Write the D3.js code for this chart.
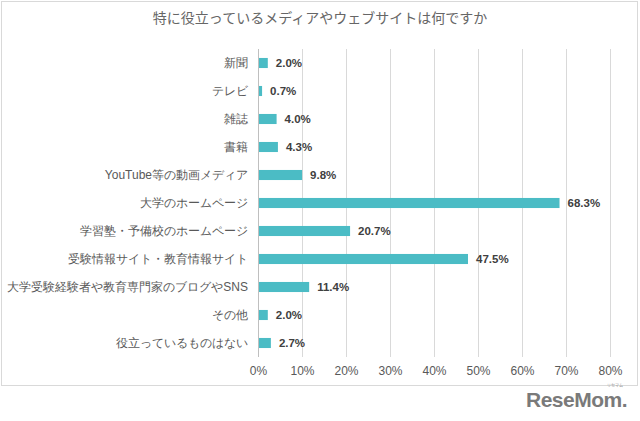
<!DOCTYPE html>
<html>
<head>
<meta charset="utf-8">
<script src="https://cdn.jsdelivr.net/npm/d3@7"></script>
<style>
body { margin: 0; background: #fff; }
svg { font-family: "Noto Sans CJK JP", "Liberation Sans", Arial, sans-serif; }
</style>
</head>
<body>
<div id="chart"></div>
<script>
// data
const categories = [
	'新聞',
	'テレビ',
	'雑誌',
	'書籍',
	'YouTube等の動画メディア',
	'大学のホームページ',
	'学習塾・予備校のホームページ',
	'受験情報サイト・教育情報サイト',
	'大学受験経験者や教育専門家のブログやSNS',
	'その他',
	'役立っているものはない',
]
const values = [2.0, 0.7, 4.0, 4.3, 9.8, 68.3, 20.7, 47.5, 11.4, 2.0, 2.7]
const ticks = [0, 10, 20, 30, 40, 50, 60, 70, 80]

const svgWidth = 640
const svgHeight = 421
const margin = { top: 49, left: 258, right: 30, bottom: 64 }

const svg = d3
	.select('#chart')
	.append('svg')
	.attr('width', svgWidth)
	.attr('height', svgHeight)

// frame
svg
	.append('rect')
	.attr('x', 1.5)
	.attr('y', 1.5)
	.attr('width', 636)
	.attr('height', 384)
	.attr('fill', '#fff')
	.attr('stroke', '#d9d9d9')

svg
	.append('text')
	.attr('x', 320)
	.attr('y', 23)
	.attr('text-anchor', 'middle')
	.attr('font-size', 14)
	.attr('fill', '#666')
	.text('特に役立っているメディアやウェブサイトは何ですか')

const x = d3.scaleLinear().domain([0, 80]).range([margin.left, 610])
const y = d3
	.scaleBand()
	.domain(categories)
	.range([margin.top, 357])
	.paddingInner(0.64)
	.paddingOuter(0.32)

// gridlines
svg
	.append('g')
	.selectAll('line')
	.data(ticks)
	.enter()
	.append('line')
	.attr('x1', (d) => x(d) + 0.5)
	.attr('x2', (d) => x(d) + 0.5)
	.attr('y1', margin.top)
	.attr('y2', 357)
	.attr('stroke', (d) => (d === 0 ? '#bfbfbf' : '#d9d9d9'))

// x axis labels
const xAxis = svg
	.append('g')
	.attr('transform', 'translate(0,357)')
	.call(
		d3
			.axisBottom(x)
			.tickValues(ticks)
			.tickSize(0)
			.tickPadding(9)
			.tickFormat((d) => d + '%')
	)
xAxis.select('.domain').remove()
xAxis.selectAll('text').attr('font-size', 12).attr('fill', '#595959')

// category labels
const yAxis = svg
	.append('g')
	.attr('transform', `translate(${margin.left},0)`)
	.call(d3.axisLeft(y).tickSize(0).tickPadding(10))
yAxis.select('.domain').remove()
yAxis.selectAll('text').attr('font-size', 12).attr('fill', '#595959')

// bars
svg
	.selectAll('.bar')
	.data(values)
	.enter()
	.append('rect')
	.attr('class', 'bar')
	.attr('x', x(0) + 1)
	.attr('y', (d, i) => y(categories[i]))
	.attr('width', (d) => x(d) - x(0))
	.attr('height', y.bandwidth())
	.attr('fill', '#4bbcc5')

// value labels
svg
	.selectAll('.val')
	.data(values)
	.enter()
	.append('text')
	.attr('class', 'val')
	.attr('x', (d) => x(d) + 9)
	.attr('y', (d, i) => y(categories[i]) + y.bandwidth() / 2)
	.attr('dy', '0.36em')
	.attr('font-family', '"Liberation Sans", Arial, sans-serif')
	.attr('font-weight', 'bold')
	.attr('font-size', 11.5)
	.attr('fill', '#404040')
	.text((d) => d.toFixed(1) + '%')

// logo
svg
	.append('text')
	.attr('x', 627)
	.attr('y', 407)
	.attr('text-anchor', 'end')
	.attr('font-family', '"Liberation Sans Narrow", "Liberation Sans", Arial, sans-serif')
	.attr('font-weight', 'bold')
	.attr('font-size', 21)
	.attr('fill', '#7a7a7a')
	.attr('letter-spacing', -0.5)
	.text('ReseMom.')
svg
	.append('text')
	.attr('x', 623)
	.attr('y', 387)
	.attr('text-anchor', 'end')
	.attr('font-size', 4)
	.attr('fill', '#999')
	.text('リセマム')
</script>
</body>
</html>
